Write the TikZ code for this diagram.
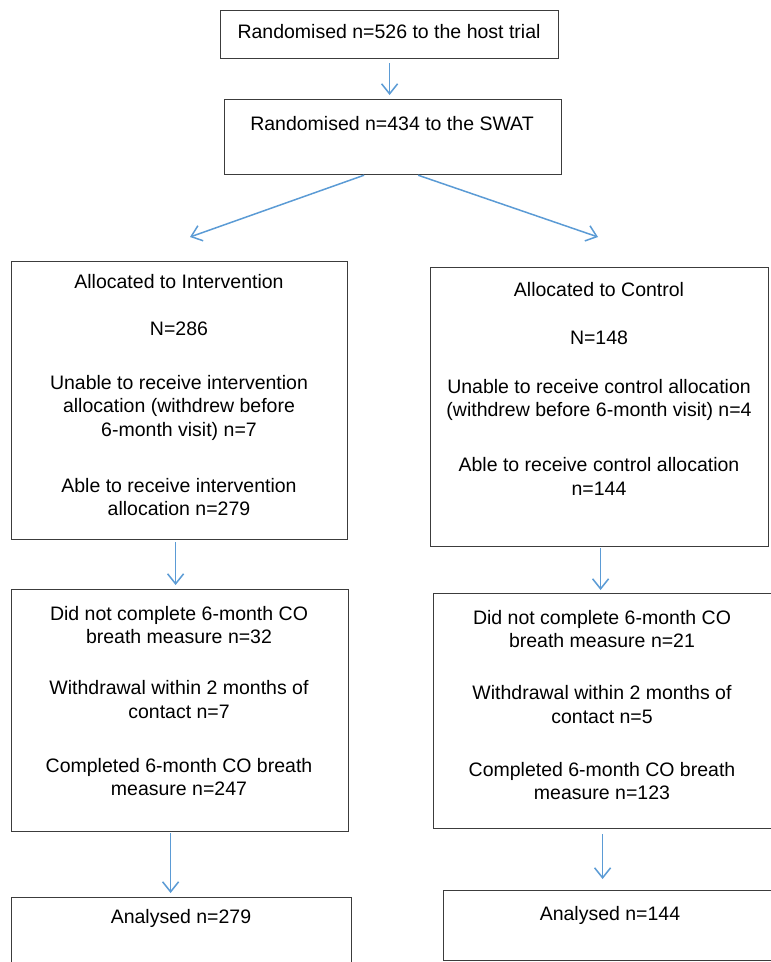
\documentclass[tikz,border=0pt]{standalone}
\usepackage{fontspec}
\setmainfont{Liberation Sans}
\usepackage{tikz}
\usetikzlibrary{arrows.meta}
\usetikzlibrary{calc}

\definecolor{flowblue}{RGB}{91,155,213}
\definecolor{boxgrey}{RGB}{60,60,60}

\begin{document}
\begin{tikzpicture}[x=1pt,y=-1pt,
	box/.style={draw=boxgrey,line width=1.2pt,anchor=north west,inner sep=0pt},
	txt/.style={anchor=north,align=center,inner sep=0pt,font=\fontsize{19.5}{23.5}\selectfont},
	arr/.style={draw=flowblue,line width=1.5pt,-{Straight Barb[length=10pt,width=16pt]}}]
	\useasboundingbox (0,0) rectangle (771,962);
	
	% top of the flow
	\node[box,minimum width=338,minimum height=48] (host) at (220,10) {};
	\node[txt] (hostT) at (389,24) {Randomised n=526 to the host trial};
	\node[box,minimum width=337,minimum height=75] (swat) at (224,99) {};
	\node[txt] (swatT) at (392,116) {Randomised n=434 to the SWAT};
	
	% allocation
	\node[box,minimum width=336,minimum height=278] (interv) at (11,261) {};
	\node[txt] (intervT) at (179,274) {Allocated to Intervention\\[23.5pt]
		N=286\\[30.5pt]
		Unable to receive intervention\\ allocation (withdrew before\\ 6-month visit) n=7\\[32.5pt]
		Able to receive intervention\\ allocation n=279};
	\node[box,minimum width=338,minimum height=279] (control) at (430,267) {};
	\node[txt] (controlT) at (599,282) {Allocated to Control\\[24.5pt]
		N=148\\[25.5pt]
		Unable to receive control allocation\\ (withdrew before 6-month visit) n=4\\[31.5pt]
		Able to receive control allocation\\ n=144};
	
	% follow-up
	\node[box,minimum width=337,minimum height=242] (intervFU) at (11,589) {};
	\node[txt] (intervFUT) at (179,606) {Did not complete 6-month CO\\ breath measure n=32\\[27.5pt]
		Withdrawal within 2 months of\\ contact n=7\\[30.5pt]
		Completed 6-month CO breath\\ measure n=247};
	\node[box,minimum width=338,minimum height=235] (controlFU) at (433,593) {};
	\node[txt] (controlFUT) at (602,610) {Did not complete 6-month CO\\ breath measure n=21\\[28.5pt]
		Withdrawal within 2 months of\\ contact n=5\\[29.5pt]
		Completed 6-month CO breath\\ measure n=123};
	
	% analysis
	\node[box,minimum width=340,minimum height=80] (intervAn) at (11,897) {};
	\node[txt] (intervAnT) at (181,909) {Analysed n=279};
	\node[box,minimum width=330,minimum height=70] (controlAn) at (443,890) {};
	\node[txt] (controlAnT) at (610,906) {Analysed n=144};
	
	% arrows
	\coordinate (toInterv) at (190,237);
	\coordinate (toControl) at (598,237);
	\draw[arr,shorten <=4pt,shorten >=4pt] (host.south) -- (host.south |- swat.north);
	\draw[arr] ([xshift=-29pt]swat.south) -- (toInterv);
	\draw[arr] ([xshift=25pt]swat.south) -- (toControl);
	\draw[arr,shorten <=2pt,shorten >=4pt] ([xshift=-4pt]interv.south) -- ([xshift=-4pt]interv.south |- intervFU.north);
	\draw[arr,shorten <=1pt,shorten >=3pt] ([xshift=1pt]control.south) -- ([xshift=1pt]control.south |- controlFU.north);
	\draw[arr,shorten <=1pt,shorten >=4pt] ([xshift=-9.5pt]intervFU.south) -- ([xshift=-9.5pt]intervFU.south |- intervAn.north);
	\draw[arr,shorten <=5pt,shorten >=11pt] (controlFU.south) -- (controlFU.south |- controlAn.north);
\end{tikzpicture}
\end{document}
